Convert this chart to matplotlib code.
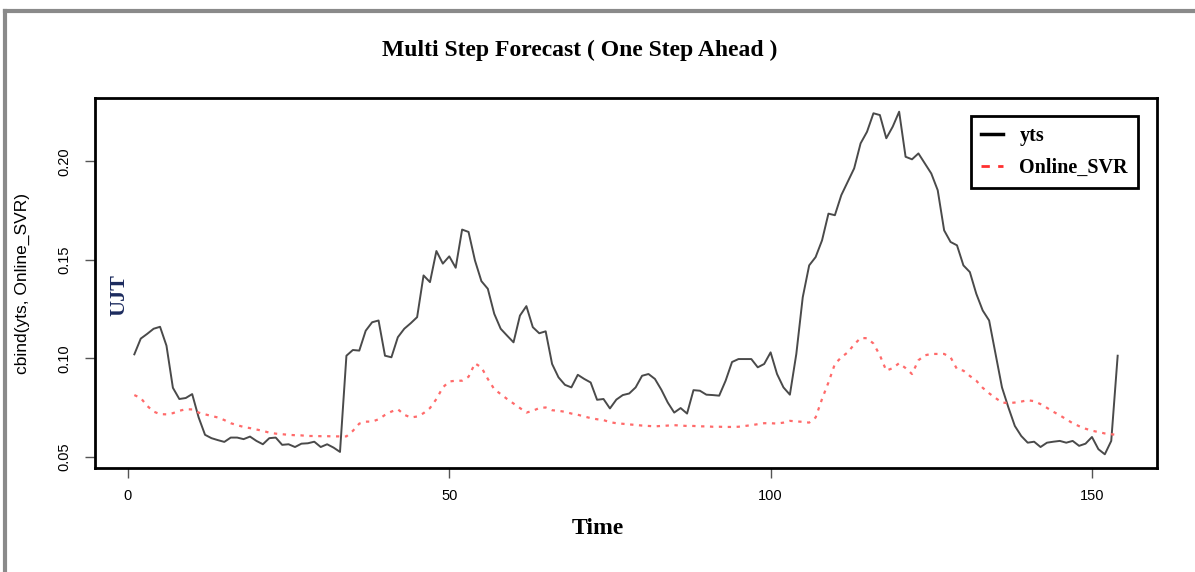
import matplotlib
matplotlib.use("Agg")
import matplotlib.pyplot as plt
from matplotlib.lines import Line2D

yts = [0.102, 0.110, 0.1124, 0.115, 0.116, 0.1064, 0.085, 0.0793, 0.0798, 0.0818,
       0.070, 0.0611, 0.0594, 0.0584, 0.0575, 0.0597, 0.0597, 0.0589, 0.0602, 0.058,
       0.0563, 0.0594, 0.0597, 0.056, 0.0563, 0.0549, 0.0566, 0.0568, 0.0576, 0.0549,
       0.0563, 0.0546, 0.0524, 0.1013, 0.1042, 0.1039, 0.114, 0.1183, 0.1192, 0.1013,
       0.1005, 0.1107, 0.115, 0.1178, 0.1209, 0.1421, 0.1387, 0.1545, 0.1481, 0.1518,
       0.146, 0.1654, 0.1642, 0.1497, 0.1392, 0.1353, 0.1226, 0.115, 0.1115, 0.1081,
       0.1217, 0.1265, 0.1158, 0.1127, 0.1137, 0.0971, 0.0903, 0.0865, 0.0852, 0.0916,
       0.0895, 0.0877, 0.0789, 0.0793, 0.0745, 0.079, 0.0813, 0.0821, 0.0852, 0.0911,
       0.092, 0.0895, 0.084, 0.0775, 0.0724, 0.0747, 0.0719, 0.0838, 0.0835, 0.0815,
       0.0813, 0.081, 0.0886, 0.0981, 0.0996, 0.0996, 0.0996, 0.0954, 0.0971, 0.103,
       0.092, 0.0852, 0.0815, 0.1022, 0.131, 0.1472, 0.1514, 0.1599, 0.1735, 0.1727,
       0.1829, 0.1897, 0.1965, 0.2092, 0.2151, 0.2245, 0.2236, 0.2118, 0.2177, 0.2253,
       0.2024, 0.2011, 0.2041, 0.199, 0.1939, 0.1854, 0.165, 0.1591, 0.1574, 0.1472,
       0.1438, 0.1328, 0.1243, 0.1192, 0.1022, 0.0852, 0.075, 0.0656, 0.0605, 0.0571,
       0.0576, 0.0549, 0.0571, 0.0576, 0.058, 0.0571, 0.058, 0.0555, 0.0566, 0.060,
       0.0538, 0.0512, 0.058, 0.1013]

# one step ahead forecasts
online_svr = [0.0813, 0.0798, 0.0758, 0.0729, 0.0716, 0.0715, 0.0721, 0.0733, 0.0741, 0.074,
              0.0724, 0.0715, 0.0707, 0.0699, 0.0686, 0.067, 0.066, 0.0651, 0.0645, 0.0638,
              0.0631, 0.0622, 0.0617, 0.0614, 0.0611, 0.0609, 0.0608, 0.0605, 0.0605, 0.0604,
              0.0604, 0.0603, 0.0603, 0.0603, 0.0631, 0.0668, 0.0678, 0.0678, 0.069, 0.0712,
              0.0729, 0.0741, 0.0713, 0.0699, 0.0704, 0.0721, 0.0747, 0.0793, 0.0852, 0.0882,
              0.0886, 0.0886, 0.0906, 0.0974, 0.0954, 0.0895, 0.0843, 0.0818, 0.0793, 0.077,
              0.0747, 0.0724, 0.0733, 0.0747, 0.075, 0.0736, 0.0733, 0.0728, 0.0719, 0.0713,
              0.0704, 0.0696, 0.069, 0.0686, 0.0675, 0.067, 0.0667, 0.0664, 0.0661, 0.0658,
              0.0656, 0.0654, 0.0656, 0.0658, 0.066, 0.0658, 0.0656, 0.0656, 0.0654, 0.0654,
              0.0652, 0.0652, 0.0651, 0.0651, 0.0652, 0.0656, 0.066, 0.0665, 0.067, 0.067,
              0.0668, 0.0673, 0.0682, 0.0679, 0.0677, 0.0673, 0.0699, 0.0793, 0.0877, 0.0971,
              0.1005, 0.103, 0.107, 0.1103, 0.1102, 0.1075, 0.1015, 0.0937, 0.095, 0.0975,
              0.095, 0.092, 0.099, 0.1015, 0.1022, 0.1022, 0.1022, 0.1005, 0.0945, 0.0937,
              0.091, 0.0886, 0.085, 0.0822, 0.0798, 0.0775, 0.0772, 0.0775, 0.078, 0.0787,
              0.0782, 0.0767, 0.0748, 0.0728, 0.071, 0.069, 0.067, 0.0655, 0.0642, 0.0632,
              0.0625, 0.0618, 0.0614, 0.061]

time_idx = list(range(1, len(yts) + 1))
xticks = [0, 50, 100, 150]
yticks = [0.05, 0.10, 0.15, 0.20]

serif = "Liberation Serif"
sans = "Liberation Sans"

fig = plt.figure(figsize=(11.95, 5.72), dpi=100)
ax = fig.add_axes([95 / 1195, 1 - 468 / 572, 1062 / 1195, 370 / 572])

ax.plot(time_idx, yts, color="#4a4a4a", lw=1.4)
ax.plot(time_idx, online_svr, color="#ff6a6a", lw=1.6, linestyle=(0, (1.5, 2.5)))

# R style 4% padding
ax.margins(x=0.04, y=0.04)

ax.set_xticks(xticks)
ax.set_xticklabels([str(v) for v in xticks], family=sans, fontsize=10.5)
ax.set_yticks(yticks)
ax.set_yticklabels(["%.2f" % v for v in yticks], family=sans, fontsize=10.5,
                   rotation=90, va="center")
ax.tick_params(direction="out", length=7, width=1, color="#555555", pad=8)
ax.tick_params(axis="y", pad=10)
for sp in ax.spines.values():
    sp.set_linewidth(2)
    sp.set_color("black")

ax.set_ylabel("cbind(yts, Online_SVR)", family=sans, fontsize=12.5, labelpad=20)

# title and axis label sit a bit left of the axes centre in the reference
fig.text(580 / 1195, 1 - 50 / 572, "Multi Step Forecast ( One Step Ahead )",
         family=serif, weight="bold", fontsize=17, ha="center", va="center")
fig.text(598 / 1195, 1 - 528 / 572, "Time", family=serif, weight="bold",
         fontsize=17, ha="center", va="center")
fig.text(119 / 1195, 1 - 295 / 572, "UJT", family=serif, weight="bold",
         fontsize=16, rotation=90, ha="center", va="center", color="#1c2b5e")

handles = [Line2D([], [], color="black", lw=2.5),
           Line2D([], [], color="#ff3030", lw=2, linestyle=(0, (3, 3)))]
leg = ax.legend(handles, ["yts", "Online_SVR"], loc="upper right",
                bbox_to_anchor=((1138 - 95) / 1062, (468 - 116) / 370),
                borderaxespad=0,
                prop={"family": serif, "weight": "bold", "size": 14.5},
                fancybox=False, framealpha=1, edgecolor="black",
                handlelength=1.1, borderpad=0.5, labelspacing=0.6)
leg.get_frame().set_linewidth(2)

# grey frame round the picture (top and left edges)
fig.add_artist(Line2D([5 / 1195, 1], [1 - 11 / 572, 1 - 11 / 572],
                      transform=fig.transFigure, color="#8a8a8a", lw=3))
fig.add_artist(Line2D([5 / 1195, 5 / 1195], [0, 1 - 11 / 572],
                      transform=fig.transFigure, color="#8a8a8a", lw=3))

fig.savefig("out.png", dpi=100)
